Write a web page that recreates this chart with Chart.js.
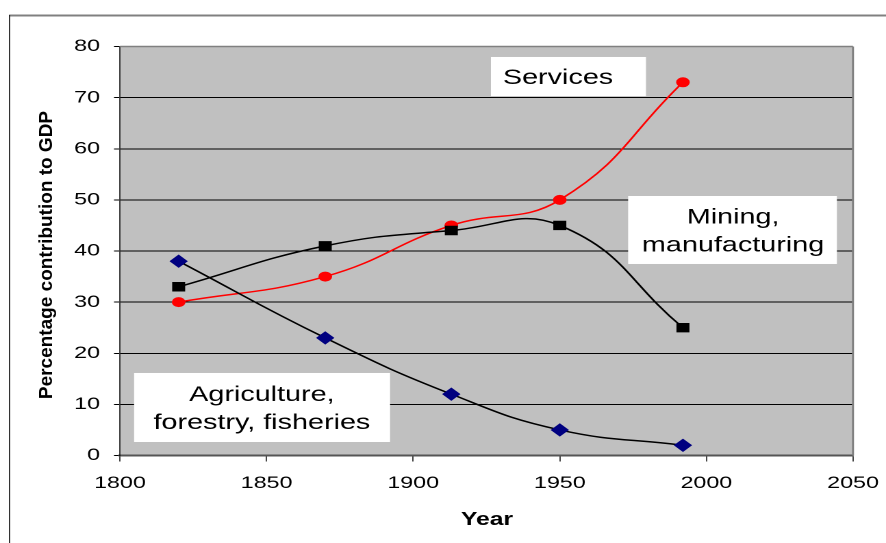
<!DOCTYPE html>
<html>
<head>
<meta charset="utf-8">
<script src="https://cdn.jsdelivr.net/npm/chart.js@4/dist/chart.umd.min.js"></script>
<style>
  html, body { margin: 0; padding: 0; background: #fff; overflow: hidden; width: 886px; height: 543px; }
  #c { position: absolute; left: 0; top: 0; transform-origin: 0 0; }
</style>
</head>
<body>
<canvas id="c" width="647" height="543" style="width:647px;height:543px"></canvas>
<script>
// ---- data ----
const years = [1820, 1870, 1913, 1950, 1992];
const agriculture = [38, 23, 12, 5, 2];
const mining = [33, 41, 44, 45, 25];
const services = [30, 35, 45, 50, 73];
const seriesNames = ['Agriculture, forestry, fisheries', 'Mining, manufacturing', 'Services'];
const xTitle = 'Year';
const yTitle = 'Percentage contribution to GDP';
// annotation boxes (data coordinates)
const noteLines = [['Services'], ['Mining,', 'manufacturing'], ['Agriculture,', 'forestry, fisheries']];
const noteBoxX = [[1926.5, 1979.4], [1973.3, 2044.5], [1804.8, 1892.1]];
const noteBoxY = [[77.95, 70.3], [50.76, 37.46], [16.14, 2.64]];
const noteTextX = [1949.4, 2009.1, 1848.4];

// ---- layout ----
const W = 886, CW = 647;
const S = W / CW; // horizontal stretch of the original picture
document.getElementById('c').style.transform = 'scaleX(' + S + ')';
const FONT = '"Liberation Sans", Arial, sans-serif';

const pts = arr => years.map((y, i) => ({ x: y, y: arr[i] }));

const deco = {
  id: 'deco',
  beforeDraw(chart) {
    const { ctx, chartArea: a } = chart;
    ctx.save();
    ctx.fillStyle = '#C0C0C0';
    ctx.fillRect(a.left, a.top, a.right - a.left, a.bottom - a.top);
    // outer frame
    ctx.strokeStyle = '#808080';
    ctx.lineWidth = 2;
    ctx.beginPath(); ctx.moveTo(9 / S, 15.5); ctx.lineTo(CW, 15.5); ctx.stroke();
    ctx.strokeStyle = '#222';
    ctx.lineWidth = 1.2 / S;
    ctx.beginPath(); ctx.moveTo(9.5 / S, 15); ctx.lineTo(9.5 / S, 543); ctx.stroke();
    ctx.restore();
  },
  afterDraw(chart) {
    const { ctx, chartArea: a, scales } = chart;
    const xs = scales.x, ys = scales.y;
    ctx.save();
    // plot borders
    ctx.strokeStyle = '#808080';
    ctx.lineWidth = 1.5;
    ctx.beginPath(); ctx.moveTo(a.left, a.top); ctx.lineTo(a.right, a.top); ctx.stroke();
    ctx.lineWidth = 2 / S;
    ctx.beginPath(); ctx.moveTo(a.right, a.top); ctx.lineTo(a.right, a.bottom); ctx.stroke();
    // annotation boxes
    for (let i = 0; i < noteLines.length; i++) {
      const x1 = xs.getPixelForValue(noteBoxX[i][0]), x2 = xs.getPixelForValue(noteBoxX[i][1]);
      const y1 = ys.getPixelForValue(noteBoxY[i][0]), y2 = ys.getPixelForValue(noteBoxY[i][1]);
      ctx.fillStyle = '#fff';
      ctx.fillRect(x1, y1, x2 - x1, y2 - y1);
      ctx.fillStyle = '#000';
      ctx.font = '21px ' + FONT;
      ctx.textAlign = 'center';
      ctx.textBaseline = 'alphabetic';
      const cx = xs.getPixelForValue(noteTextX[i]);
      const cy = (y1 + y2) / 2;
      const n = noteLines[i].length;
      noteLines[i].forEach((t, k) => ctx.fillText(t, cx, cy + 7.5 + (k - (n - 1) / 2) * 28));
    }
    // axis titles
    ctx.fillStyle = '#000';
    ctx.font = 'bold 18px ' + FONT;
    ctx.textAlign = 'center';
    ctx.textBaseline = 'alphabetic';
    ctx.fillText(xTitle, 487 / S, 525);
    ctx.save();
    ctx.translate(47 / S, 255);
    ctx.scale(1 / S, 1);
    ctx.rotate(-Math.PI / 2);
    ctx.font = 'bold 19px ' + FONT;
    ctx.textBaseline = 'middle';
    ctx.fillText(yTitle, 0, 0);
    ctx.restore();
    ctx.restore();
  }
};

new Chart(document.getElementById('c'), {
  type: 'line',
  data: {
    datasets: [
      { label: seriesNames[0], data: pts(agriculture), borderColor: '#000', borderWidth: 1.5,
        pointStyle: 'rectRot', pointRadius: 6, pointBackgroundColor: '#000080', pointBorderColor: '#000080', pointBorderWidth: 1,
        tension: 0.45, fill: false },
      { label: seriesNames[1], data: pts(mining), borderColor: '#000', borderWidth: 1.5,
        pointStyle: 'rect', pointRadius: 6, pointBackgroundColor: '#000', pointBorderColor: '#000', pointBorderWidth: 1,
        tension: 0.45, fill: false },
      { label: seriesNames[2], data: pts(services), borderColor: '#FF0000', borderWidth: 1.5,
        pointStyle: 'circle', pointRadius: 4.5, pointBackgroundColor: '#FF0000', pointBorderColor: '#FF0000', pointBorderWidth: 1,
        tension: 0.45, fill: false }
    ]
  },
  options: {
    responsive: false,
    animation: false,
    devicePixelRatio: 2,
    layout: { padding: { left: 0, top: 46.5, right: CW - 853 / S, bottom: 0 } },
    plugins: { legend: { display: false }, tooltip: { enabled: false }, title: { display: false } },
    scales: {
      x: {
        type: 'linear', min: 1800, max: 2050,
        afterFit: s => { s.height = 543 - 455.5; s.paddingLeft = 0; s.paddingRight = 0; },
        ticks: { stepSize: 50, padding: 11.6, color: '#000', font: { family: FONT, size: 17 }, callback: v => String(v), maxRotation: 0 },
        grid: { drawOnChartArea: false, drawTicks: true, tickLength: 6, tickColor: '#000', lineWidth: 1 / S },
        border: { display: true, color: '#555', width: 2 }
      },
      y: {
        min: 0, max: 80,
        afterFit: s => { s.width = 120 / S; s.paddingTop = 0; s.paddingBottom = 0; },
        ticks: { stepSize: 10, padding: 10.2, color: '#000', font: { family: FONT, size: 17 }, callback: v => String(v) },
        grid: {
          drawTicks: true, tickLength: 6 / S, tickColor: '#000', lineWidth: 1,
          color: c => (c.tick && (c.tick.value === 0 || c.tick.value === 80)) ? 'rgba(0,0,0,0)' : '#000'
        },
        border: { display: true, color: '#000', width: 1 / S }
      }
    }
  },
  plugins: [deco]
});
</script>
</body>
</html>
